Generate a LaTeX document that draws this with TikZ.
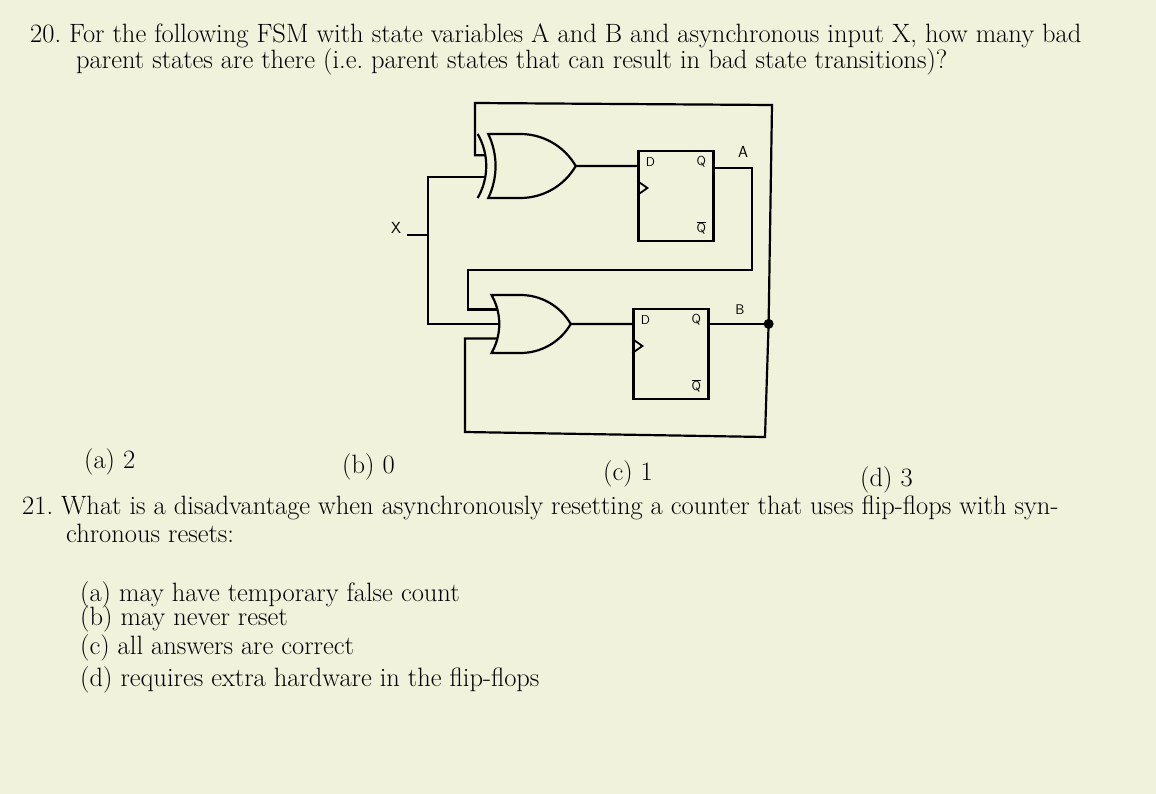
\documentclass[tikz,border=0pt]{standalone}
\usetikzlibrary{shapes.gates.logic.US,calc}
\definecolor{bgc}{rgb}{0.94,0.95,0.86}
\begin{document}
\begin{tikzpicture}[x=1pt,y=-1pt,
  wire/.style={line width=2.2pt,line cap=rect},
  ff/.style={draw,line width=2.2pt,minimum width=75pt,minimum height=90pt,inner sep=0pt},
  pin/.style={font=\sffamily\fontsize{13}{13}\selectfont},
  txt/.style={anchor=west,font=\fontsize{26.5}{30}\selectfont,inner sep=0pt}]
\fill[bgc] (0,0) rectangle (1156,794);
\useasboundingbox (0,0) rectangle (1156,794);
% text
\node[txt] (q20a) at (30,36) {20.\ For the following FSM with state variables A and B and asynchronous input X, how many bad};
\node[txt] (q20b) at (76,62) {parent states are there (i.e.\ parent states that can result in bad state transitions)?};
\node[txt] (a1) at (84,462) {(a)\ 2};
\node[txt] (a2) at (342,467) {(b)\ 0};
\node[txt] (a3) at (603,474) {(c)\ 1};
\node[txt] (a4) at (860,480) {(d)\ 3};
\node[txt] (q21a) at (22,508) {21.\ What is a disadvantage when asynchronously resetting a counter that uses flip-flops with syn-};
\node[txt] (q21b) at (66,533) {chronous resets:};
\node[txt] (b1) at (80,595) {(a)\ may have temporary false count};
\node[txt] (b2) at (80,619) {(b)\ may never reset};
\node[txt] (b3) at (80,648) {(c)\ all answers are correct};
\node[txt] (b4) at (80,680) {(d)\ requires extra hardware in the flip-flops};
% gates
\node[xor gate US,draw,logic gate inputs=nn,line width=2.2pt,minimum width=64pt,minimum height=64pt,anchor=output] (g1) at (577,166) {};
\node[or gate US,draw,logic gate inputs=nnn,line width=2.2pt,minimum width=64pt,minimum height=58pt,anchor=output] (g2) at (572,324) {};
% flip-flops
\node[ff] (fa) at (676,196) {};
\node[ff] (fb) at (671,354) {};
\foreach \f in {fa,fb}{
  \node[pin,anchor=west] at ($(\f.north west)+(5,12)$) {D};
  \node[pin,anchor=east] at ($(\f.north east)+(-5,12)$) {Q};
  \node[pin,anchor=east] at ($(\f.south east)+(-5,-14)$) {$\overline{\mbox{Q}}$};
  \draw[line width=1.8pt] ($(\f.west)+(0,-15)$) -- ++(10,7) -- ++(-10,7);
}
\coordinate (da) at ($(fa.north west)+(0,16)$);
\coordinate (qa) at ($(fa.north east)+(0,18)$);
\coordinate (db) at ($(fb.north west)+(0,16)$);
\coordinate (qb) at ($(fb.north east)+(0,16)$);
\node[circle,fill,inner sep=0pt,minimum size=10pt] (dot) at ($(qb)+(59,0)$) {};
% wires
\draw[wire] (g1.output) -- (da);
\draw[wire] (g2.output) -- (db);
\draw[wire] (qb) -- (dot);
\draw[wire] (g1.input 1) -- (g1.input 1 -| 475,0) -- (475,103) -- (772,105) -- (dot);
\draw[wire] (qa) -- (qa -| 752,0) -- (752,270) -- (468,270) -- (g2.input 1 -| 468,0) -- (g2.input 1);
\draw[wire] (g1.input 2) -- (g1.input 2 -| 428,0) -- (g2.input 2 -| 428,0) -- (g2.input 2);
\draw[wire] (g2.input 3) -- (g2.input 3 -| 465,0) -- (465,432) -- (765,437) -- (dot);
\node[font=\sffamily\fontsize{16}{16}\selectfont] (xl) at (396,228) {X};
\coordinate (xw) at (408,235);
\draw[wire] (xw) -- (428,235);
\node[font=\sffamily\fontsize{16}{16}\selectfont] (al) at (743,152) {A};
\node[font=\sffamily\fontsize{14}{14}\selectfont] (bl) at (740,310) {B};
\end{tikzpicture}
\end{document}
